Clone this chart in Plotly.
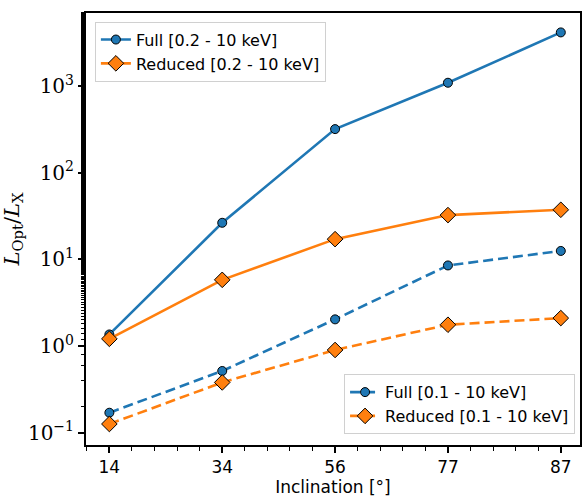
import plotly.graph_objects as go

inclinations = ["14", "34", "56", "77", "87"]
full_02 = [1.36, 26.4, 318, 1090, 4150]
reduced_02 = [1.21, 5.8, 17.1, 32.4, 37.3]
full_01 = [0.170, 0.515, 2.03, 8.5, 12.5]
reduced_01 = [0.126, 0.38, 0.90, 1.76, 2.1]
ytick_vals = [0.1, 1, 10, 100, 1000]
ytick_text = ["10<sup>\u22121</sup>", "10<sup>0</sup>", "10<sup>1</sup>", "10<sup>2</sup>", "10<sup>3</sup>"]

BLUE = "#1f77b4"
ORANGE = "#ff7f0e"
xpos = list(range(len(inclinations)))

fig = go.Figure()

def add(y, name, color, symbol, dash, legend, msize):
    fig.add_trace(go.Scatter(
        x=xpos, y=y, name=name, mode="lines+markers", legend=legend,
        line=dict(color=color, width=2.6, dash=dash),
        marker=dict(symbol=symbol, size=msize, color=color, line=dict(color="black", width=1)),
    ))

add(full_02, "Full [0.2 - 10 keV]", BLUE, "circle", "solid", "legend", 9)
add(reduced_02, "Reduced [0.2 - 10 keV]", ORANGE, "diamond", "solid", "legend", 12)
add(full_01, "Full [0.1 - 10 keV]", BLUE, "circle", "10px,5px", "legend2", 9)
add(reduced_01, "Reduced [0.1 - 10 keV]", ORANGE, "diamond", "10px,5px", "legend2", 12)

legend_style = dict(
    bgcolor="rgba(255,255,255,0.8)", bordercolor="#d0d0d0", borderwidth=1,
    font=dict(family="DejaVu Sans", size=16, color="black"),
    tracegroupgap=2, itemwidth=30,
)

fig.update_layout(
    width=584, height=498,
    margin=dict(l=86, r=2, t=13, b=53),
    paper_bgcolor="white", plot_bgcolor="white",
    showlegend=True,
    legend=dict(x=0.018, y=0.98, xanchor="left", yanchor="top", **legend_style),
    legend2=dict(x=0.99, y=0.025, xanchor="right", yanchor="bottom", **legend_style),
    xaxis=dict(
        range=[-0.207, 4.17], tickvals=xpos, ticktext=inclinations,
        showgrid=False, zeroline=False, showline=True, linecolor="black", linewidth=2,
        mirror=True, ticks="outside", ticklen=6, tickwidth=1.5, tickcolor="black",
        minor=dict(dtick=0.2, ticks="outside", ticklen=3.5, tickwidth=1, tickcolor="black", showgrid=False),
        tickfont=dict(family="DejaVu Sans", size=17, color="black"),
        title=dict(text="Inclination [\u00b0]", font=dict(family="DejaVu Sans", size=17, color="black"), standoff=4),
    ),
    yaxis=dict(
        type="log", range=[-1.142, 3.842], tickvals=ytick_vals, ticktext=ytick_text,
        showgrid=False, zeroline=False, showline=True, linecolor="black", linewidth=2,
        mirror=True, ticks="outside", ticklen=6, tickwidth=1.5, tickcolor="black",
        minor=dict(ticks="outside", ticklen=3.5, tickwidth=1, tickcolor="black", showgrid=False),
        tickfont=dict(family="DejaVu Serif", size=20, color="black"),
        title=dict(text="<i>L</i><sub>Opt</sub>/<i>L</i><sub>X</sub>", font=dict(family="DejaVu Serif", size=21, color="black"), standoff=6),
    ),
)

fig.write_html("out.html")
